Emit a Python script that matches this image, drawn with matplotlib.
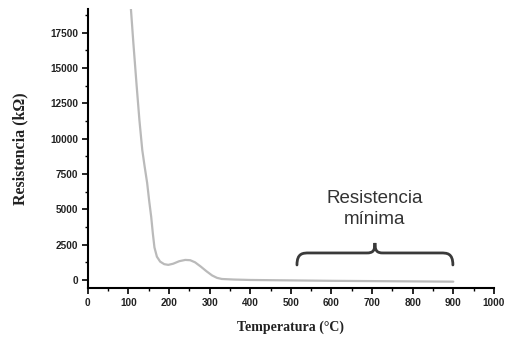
import matplotlib
matplotlib.use("Agg")
import matplotlib.pyplot as plt
from matplotlib.path import Path
from matplotlib.patches import PathPatch
from matplotlib.ticker import MultipleLocator

# Resistance vs temperature
temperature = [104, 112, 120, 127, 134, 140, 146, 151, 156, 160, 164, 170, 178,
               188, 198, 210, 225, 240, 252, 264, 278, 292, 306, 318, 330,
               360, 400, 500, 600, 700, 800, 900]
resistance = [20000, 16800, 13800, 11300, 9200, 8000, 6870, 5600, 4465, 3300,
              2300, 1650, 1300, 1120, 1070, 1150, 1330, 1420, 1400, 1250, 950,
              620, 320, 150, 70, 30, 0, -30, -60, -80, -100, -120]

x_ticks = [0, 100, 200, 300, 400, 500, 600, 700, 800, 900, 1000]
y_ticks = [0, 2500, 5000, 7500, 10000, 12500, 15000, 17500]

annotation = "Resistencia\nmínima"
brace_range = (515, 899)

fig = plt.figure(figsize=(5.05, 3.40), dpi=100)
ax = fig.add_axes([0.174, 0.153, 0.804, 0.821])

ax.plot(temperature, resistance, color="#bababa", lw=1.6,
        solid_capstyle="round", solid_joinstyle="round")

ax.set_xlim(0, 1000)
ax.set_ylim(-567, 19200)
ax.set_xticks(x_ticks)
ax.set_yticks(y_ticks)
ax.xaxis.set_minor_locator(MultipleLocator(50))
ax.yaxis.set_minor_locator(MultipleLocator(1250))

for s in ("top", "right"):
    ax.spines[s].set_visible(False)
for s in ("left", "bottom"):
    ax.spines[s].set_linewidth(1.5)

ax.tick_params(which="major", direction="out", length=4, width=1.2,
               labelsize=7.2, pad=3)
ax.tick_params(which="minor", direction="out", length=2.5, width=1.0)
for lab in ax.get_xticklabels() + ax.get_yticklabels():
    lab.set_fontweight("bold")
    lab.set_family("Liberation Sans")
    lab.set_color("#222222")

ax.set_xlabel("Temperatura (°C)", fontsize=10, fontweight="bold",
              family="Liberation Serif", labelpad=9, color="#222222")
ax.set_ylabel("Resistencia (kΩ)", fontsize=11.5, fontweight="bold",
              family="Liberation Serif", labelpad=16, color="#222222")

# curly brace over the low-resistance region
x0, x1 = brace_range
xm = (x0 + x1) / 2
y_tip, y_bar, y_peak = 1063, 1913, 2622
verts = [
    (x0, y_tip), (x0, y_bar), (x0 + 15, y_bar), (x0 + 30, y_bar),
    (xm - 20, y_bar),
    (xm - 5, y_bar), (xm, y_bar + 150), (xm, y_peak),
    (xm, y_bar + 150), (xm + 5, y_bar), (xm + 20, y_bar),
    (x1 - 30, y_bar),
    (x1 - 15, y_bar), (x1, y_bar), (x1, y_tip),
]
codes = [Path.MOVETO, Path.CURVE4, Path.CURVE4, Path.CURVE4,
         Path.LINETO,
         Path.CURVE4, Path.CURVE4, Path.CURVE4,
         Path.CURVE4, Path.CURVE4, Path.CURVE4,
         Path.LINETO,
         Path.CURVE4, Path.CURVE4, Path.CURVE4]
ax.add_patch(PathPatch(Path(verts, codes), fill=False, lw=2.0,
                       edgecolor="#3a3a3a", capstyle="round"))

ax.text(xm, 5030, annotation, ha="center", va="center", fontsize=13.5,
        family="Liberation Sans", color="#333333", linespacing=1.25)

fig.savefig("out.png", dpi=100)
